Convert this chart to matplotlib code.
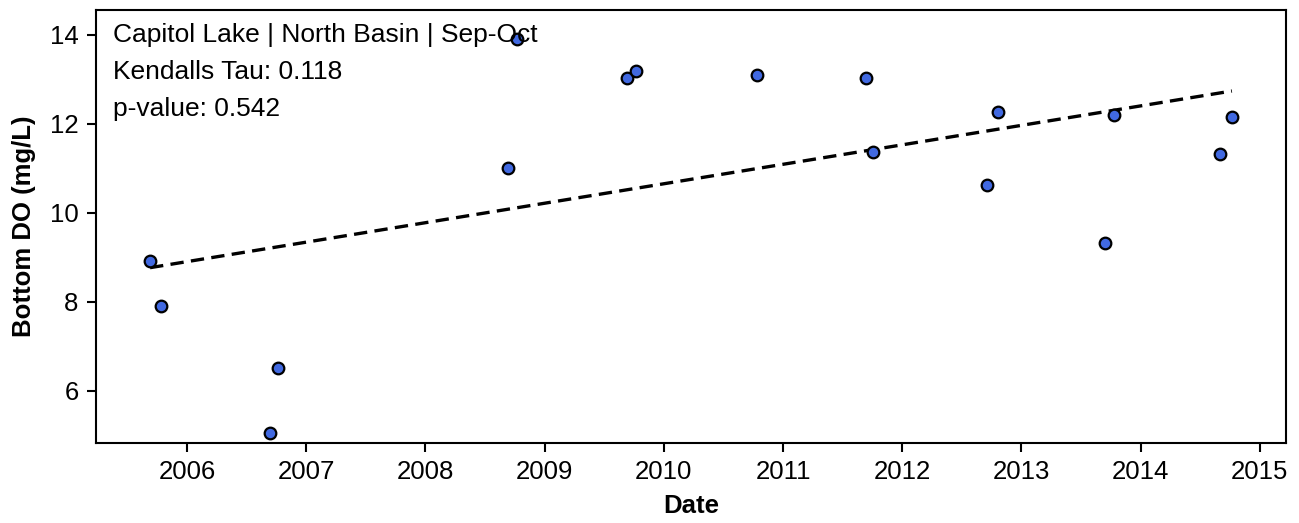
import numpy as np
import pandas as pd
import matplotlib
matplotlib.use("Agg")
import matplotlib.pyplot as plt
import matplotlib.dates as mdates

plt.rcParams['font.family'] = ['Liberation Sans', 'DejaVu Sans']

dates = ["2005-09-09", "2005-10-12", "2006-09-13", "2006-10-05", "2008-09-09", "2008-10-08",
         "2009-09-09", "2009-10-08", "2010-10-12", "2011-09-13", "2011-10-05", "2012-09-17",
         "2012-10-20", "2013-09-13", "2013-10-12", "2014-09-02", "2014-10-08"]
bottom_do = [8.92, 7.91, 5.05, 6.51, 11.0, 13.91, 13.03, 13.2, 13.11, 13.03, 11.38, 10.62,
             12.27, 9.33, 12.2, 11.33, 12.15]

# trend line values at the first and last sample dates
trend_values = [8.77, 12.74]

site_label = "Capitol Lake | North Basin | Sep-Oct"
kendall_tau = 0.118
p_value = 0.542

d = pd.to_datetime(dates)
y = np.array(bottom_do)

fig, ax = plt.subplots(figsize=(12.99, 5.23), dpi=100)
fig.subplots_adjust(left=96 / 1299, right=1286 / 1299, top=1 - 10 / 523, bottom=1 - 443 / 523)

ax.scatter(d, y, s=70, c='royalblue', edgecolors='black', linewidths=1.6, zorder=3)
ax.plot([d.min(), d.max()], trend_values, color='black', linestyle=(0, (4.0, 2.2)),
        lw=2.4, zorder=2)

ax.set_ylim(4.83, 14.56)
ax.set_xlabel("Date", fontsize=18.5, fontweight='bold', labelpad=7)
ax.set_ylabel("Bottom DO (mg/L)", fontsize=18.5, fontweight='bold', labelpad=10)
ax.tick_params(labelsize=18.5, width=1.5, length=6.5, pad=6)
for s in ax.spines.values():
    s.set_linewidth(1.5)
ax.xaxis.set_major_locator(mdates.YearLocator())
ax.xaxis.set_major_formatter(mdates.DateFormatter('%Y'))

ax.text(0.014, 0.943, site_label, transform=ax.transAxes, fontsize=19, va='center')
ax.text(0.014, 0.857, f"Kendalls Tau: {kendall_tau:.3f}", transform=ax.transAxes, fontsize=19, va='center')
ax.text(0.014, 0.772, f"p-value: {p_value:.3f}", transform=ax.transAxes, fontsize=19, va='center')

fig.savefig("out.png", dpi=100)
